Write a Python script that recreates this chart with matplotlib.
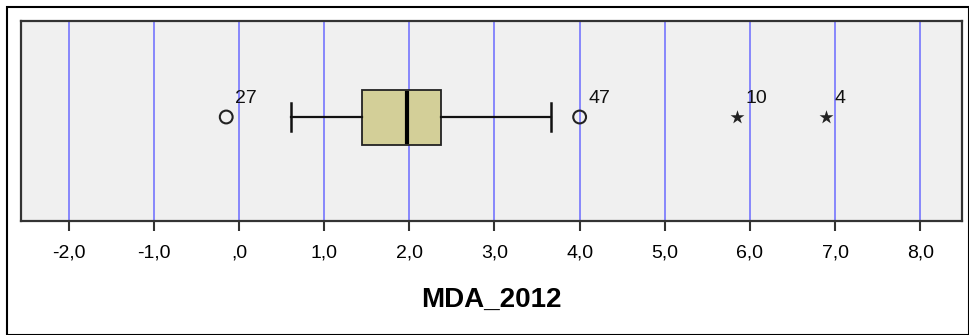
import matplotlib.pyplot as plt
from matplotlib.patches import Rectangle

plt.rcParams['font.family'] = ['Liberation Sans', 'DejaVu Sans']

# box summary
q1, med, q3 = 1.44, 1.97, 2.37
whisk_lo, whisk_hi = 0.61, 3.66

circle_vals = [-0.15, 4.0]
circle_ids = ['27', '47']
star_vals = [5.85, 6.89]
star_ids = ['10', '4']

ticks = [-2, -1, 0, 1, 2, 3, 4, 5, 6, 7, 8]
tick_labels = ['-2,0', '-1,0', ',0', '1,0', '2,0', '3,0', '4,0', '5,0', '6,0', '7,0', '8,0']

fig = plt.figure(figsize=(9.7, 3.35), dpi=100)
fig.patches.append(Rectangle((7/970, 0), 962/970, 328/335, transform=fig.transFigure,
                             fill=False, edgecolor='black', linewidth=1.5))
ax = fig.add_axes([21/970, 1 - 221/335, 941/970, 200/335])
ax.set_facecolor('#f0f0f0')
ax.set_xlim(-2.56, 8.49)
ax.set_ylim(0, 1)

for t in ticks:
    ax.axvline(t, color='#6a6aff', linewidth=1.1, zorder=1)

y0 = 0.52
h = 0.275
ax.add_patch(Rectangle((q1, y0 - h/2), q3 - q1, h, facecolor='#d3cf98',
                       edgecolor='#222222', linewidth=1.3, zorder=3))
ax.plot([med, med], [y0 - h/2 + 0.005, y0 + h/2 - 0.005], color='black',
        linewidth=3, solid_capstyle='butt', zorder=4)
ax.plot([whisk_lo, q1], [y0, y0], color='#111111', linewidth=1.6, zorder=3)
ax.plot([q3, whisk_hi], [y0, y0], color='#111111', linewidth=1.6, zorder=3)
cap = 0.07
ax.plot([whisk_lo, whisk_lo], [y0 - cap, y0 + cap], color='#111111', linewidth=1.8, zorder=3)
ax.plot([whisk_hi, whisk_hi], [y0 - cap, y0 + cap], color='#111111', linewidth=1.8, zorder=3)

ax.scatter(circle_vals, [y0] * len(circle_vals), s=85, facecolors='none',
           edgecolors='#222222', linewidths=1.5, zorder=5)
ax.scatter(star_vals, [y0] * len(star_vals), s=110, marker='*', color='#222222',
           linewidths=0, zorder=5)
for v, lab in zip(circle_vals + star_vals, circle_ids + star_ids):
    ax.text(v + 0.1, y0 + 0.05, lab, fontsize=14, color='#111111', ha='left',
            va='bottom', zorder=6)

ax.set_yticks([])
ax.set_xticks(ticks)
ax.set_xticklabels(tick_labels, fontsize=14)
ax.tick_params(axis='x', direction='out', length=7, width=1.5, color='#333333', pad=10)
for s in ax.spines.values():
    s.set_color('#333333')
    s.set_linewidth(1.6)
ax.set_xlabel('MDA_2012', fontsize=20, fontweight='bold', labelpad=18)

fig.savefig('out.png', dpi=100)
